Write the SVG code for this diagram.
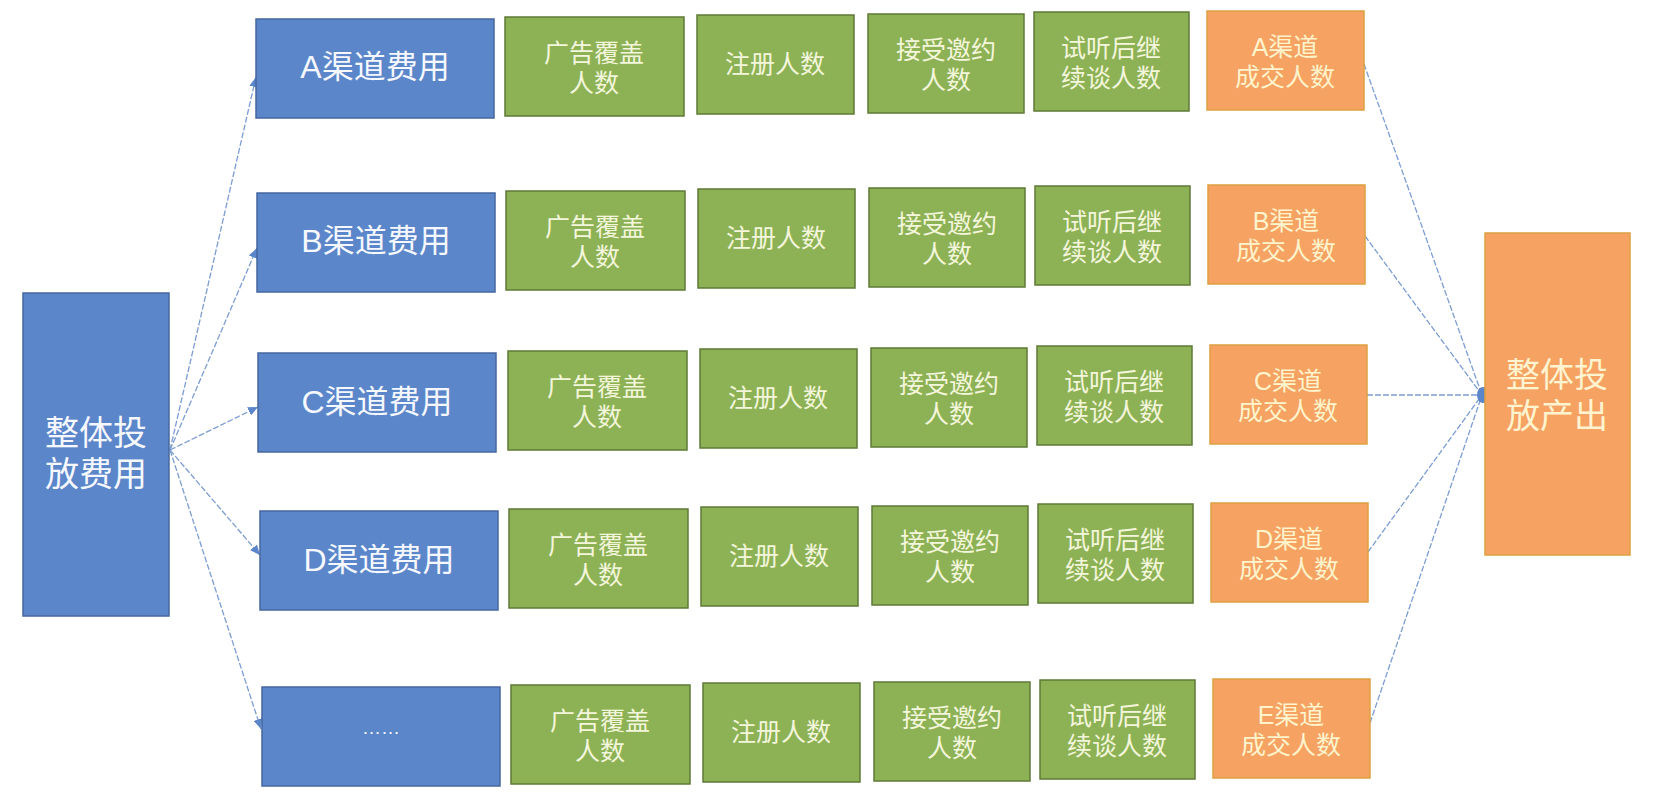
<svg xmlns="http://www.w3.org/2000/svg" width="1655" height="802" viewBox="0 0 1655 802">
<style>
  .bg { fill: #ffffff; }
  .b { fill: #5B86C9; stroke: #44679F; stroke-width: 1.5; }
  .g { fill: #8DB256; stroke: #5E7A36; stroke-width: 1.5; }
  .o { fill: #F5A263; stroke: #DDA040; stroke-width: 1.5; }
  text { font-family: "Liberation Sans", "Noto Sans CJK SC", sans-serif; text-anchor: middle; dominant-baseline: central; }
  .tb { fill: #F6F8FF; font-size: 32px; }
  .tbig { fill: #F6F8FF; font-size: 34px; }
  .tobig { fill: #FFF4D0; font-size: 34px; }
  .tg { fill: #F4F6DC; font-size: 25px; }
  .to { fill: #FFF4CC; font-size: 25px; }
  .dots { fill: #F6F8FF; font-size: 19px; dominant-baseline: auto; }
  .c { stroke: #7C9DD2; stroke-width: 1.3; fill: none; stroke-dasharray: 6 2; }
</style>
<defs>
  <marker id="arr" markerUnits="userSpaceOnUse" markerWidth="11" markerHeight="9" refX="10" refY="4.5" orient="auto">
    <path d="M0,0 L10,4.5 L0,9 z" fill="#5B86C9"/>
  </marker>
</defs>
<rect class="bg" x="0" y="0" width="1655" height="802"/>

<g id="connectors">
  <line class="c" x1="170" y1="450" x2="256" y2="77" marker-end="url(#arr)"/>
  <line class="c" x1="170" y1="450" x2="257" y2="248" marker-end="url(#arr)"/>
  <line class="c" x1="170" y1="450" x2="258" y2="407" marker-end="url(#arr)"/>
  <line class="c" x1="170" y1="450" x2="260" y2="555" marker-end="url(#arr)"/>
  <line class="c" x1="170" y1="450" x2="261" y2="729" marker-end="url(#arr)"/>
  <line class="c" x1="1364" y1="64" x2="1482" y2="395"/>
  <line class="c" x1="1365" y1="236" x2="1482" y2="395"/>
  <line class="c" x1="1367" y1="395" x2="1482" y2="395"/>
  <line class="c" x1="1368" y1="552" x2="1482" y2="395"/>
  <line class="c" x1="1370" y1="723" x2="1482" y2="395"/>
  <ellipse cx="1483" cy="395" rx="6" ry="8" fill="#5B86C9"/>
</g>

<g id="total-cost">
  <rect class="b" x="23" y="293" width="146" height="323"/>
  <text class="tbig" x="96" y="433">整体投<tspan x="96" dy="41">放费用</tspan></text>
</g>

<g id="total-output">
  <rect class="o" x="1485" y="233" width="145" height="322"/>
  <text class="tobig" x="1557" y="375">整体投<tspan x="1557" dy="41">放产出</tspan></text>
</g>

<!-- Row A -->
<g id="cost-a"><rect class="b" x="256" y="19" width="238" height="99"/><text class="tb" x="375" y="67">A渠道费用</text></g>
<g id="cover-a"><rect class="g" x="505" y="17" width="179" height="99"/><text class="tg" x="594" y="53">广告覆盖<tspan x="594" dy="30">人数</tspan></text></g>
<g id="reg-a"><rect class="g" x="697" y="15" width="157" height="99"/><text class="tg" x="775" y="64">注册人数</text></g>
<g id="invite-a"><rect class="g" x="868" y="14" width="156" height="99"/><text class="tg" x="946" y="50">接受邀约<tspan x="946" dy="30">人数</tspan></text></g>
<g id="trial-a"><rect class="g" x="1034" y="12" width="155" height="99"/><text class="tg" x="1111" y="48">试听后继<tspan x="1111" dy="30">续谈人数</tspan></text></g>
<g id="deal-a"><rect class="o" x="1207" y="11" width="157" height="99"/><text class="to" x="1285" y="47">A渠道<tspan x="1285" dy="30">成交人数</tspan></text></g>

<!-- Row B -->
<g id="cost-b"><rect class="b" x="257" y="193" width="238" height="99"/><text class="tb" x="376" y="241">B渠道费用</text></g>
<g id="cover-b"><rect class="g" x="506" y="191" width="179" height="99"/><text class="tg" x="595" y="227">广告覆盖<tspan x="595" dy="30">人数</tspan></text></g>
<g id="reg-b"><rect class="g" x="698" y="189" width="157" height="99"/><text class="tg" x="776" y="238">注册人数</text></g>
<g id="invite-b"><rect class="g" x="869" y="188" width="156" height="99"/><text class="tg" x="947" y="224">接受邀约<tspan x="947" dy="30">人数</tspan></text></g>
<g id="trial-b"><rect class="g" x="1035" y="186" width="155" height="99"/><text class="tg" x="1112" y="222">试听后继<tspan x="1112" dy="30">续谈人数</tspan></text></g>
<g id="deal-b"><rect class="o" x="1208" y="185" width="157" height="99"/><text class="to" x="1286" y="221">B渠道<tspan x="1286" dy="30">成交人数</tspan></text></g>

<!-- Row C -->
<g id="cost-c"><rect class="b" x="258" y="353" width="238" height="99"/><text class="tb" x="377" y="402">C渠道费用</text></g>
<g id="cover-c"><rect class="g" x="508" y="351" width="179" height="99"/><text class="tg" x="597" y="387">广告覆盖<tspan x="597" dy="30">人数</tspan></text></g>
<g id="reg-c"><rect class="g" x="700" y="349" width="157" height="99"/><text class="tg" x="778" y="398">注册人数</text></g>
<g id="invite-c"><rect class="g" x="871" y="348" width="156" height="99"/><text class="tg" x="949" y="384">接受邀约<tspan x="949" dy="30">人数</tspan></text></g>
<g id="trial-c"><rect class="g" x="1037" y="346" width="155" height="99"/><text class="tg" x="1114" y="382">试听后继<tspan x="1114" dy="30">续谈人数</tspan></text></g>
<g id="deal-c"><rect class="o" x="1210" y="345" width="157" height="99"/><text class="to" x="1288" y="381">C渠道<tspan x="1288" dy="30">成交人数</tspan></text></g>

<!-- Row D -->
<g id="cost-d"><rect class="b" x="260" y="511" width="238" height="99"/><text class="tb" x="379" y="560">D渠道费用</text></g>
<g id="cover-d"><rect class="g" x="509" y="509" width="179" height="99"/><text class="tg" x="598" y="545">广告覆盖<tspan x="598" dy="30">人数</tspan></text></g>
<g id="reg-d"><rect class="g" x="701" y="507" width="157" height="99"/><text class="tg" x="779" y="556">注册人数</text></g>
<g id="invite-d"><rect class="g" x="872" y="506" width="156" height="99"/><text class="tg" x="950" y="542">接受邀约<tspan x="950" dy="30">人数</tspan></text></g>
<g id="trial-d"><rect class="g" x="1038" y="504" width="155" height="99"/><text class="tg" x="1115" y="540">试听后继<tspan x="1115" dy="30">续谈人数</tspan></text></g>
<g id="deal-d"><rect class="o" x="1211" y="503" width="157" height="99"/><text class="to" x="1289" y="539">D渠道<tspan x="1289" dy="30">成交人数</tspan></text></g>

<!-- Row E -->
<g id="cost-e"><rect class="b" x="262" y="687" width="238" height="99"/><text class="dots" x="381" y="734">……</text></g>
<g id="cover-e"><rect class="g" x="511" y="685" width="179" height="99"/><text class="tg" x="600" y="721">广告覆盖<tspan x="600" dy="30">人数</tspan></text></g>
<g id="reg-e"><rect class="g" x="703" y="683" width="157" height="99"/><text class="tg" x="781" y="732">注册人数</text></g>
<g id="invite-e"><rect class="g" x="874" y="682" width="156" height="99"/><text class="tg" x="952" y="718">接受邀约<tspan x="952" dy="30">人数</tspan></text></g>
<g id="trial-e"><rect class="g" x="1040" y="680" width="155" height="99"/><text class="tg" x="1117" y="716">试听后继<tspan x="1117" dy="30">续谈人数</tspan></text></g>
<g id="deal-e"><rect class="o" x="1213" y="679" width="157" height="99"/><text class="to" x="1291" y="715">E渠道<tspan x="1291" dy="30">成交人数</tspan></text></g>
</svg>
